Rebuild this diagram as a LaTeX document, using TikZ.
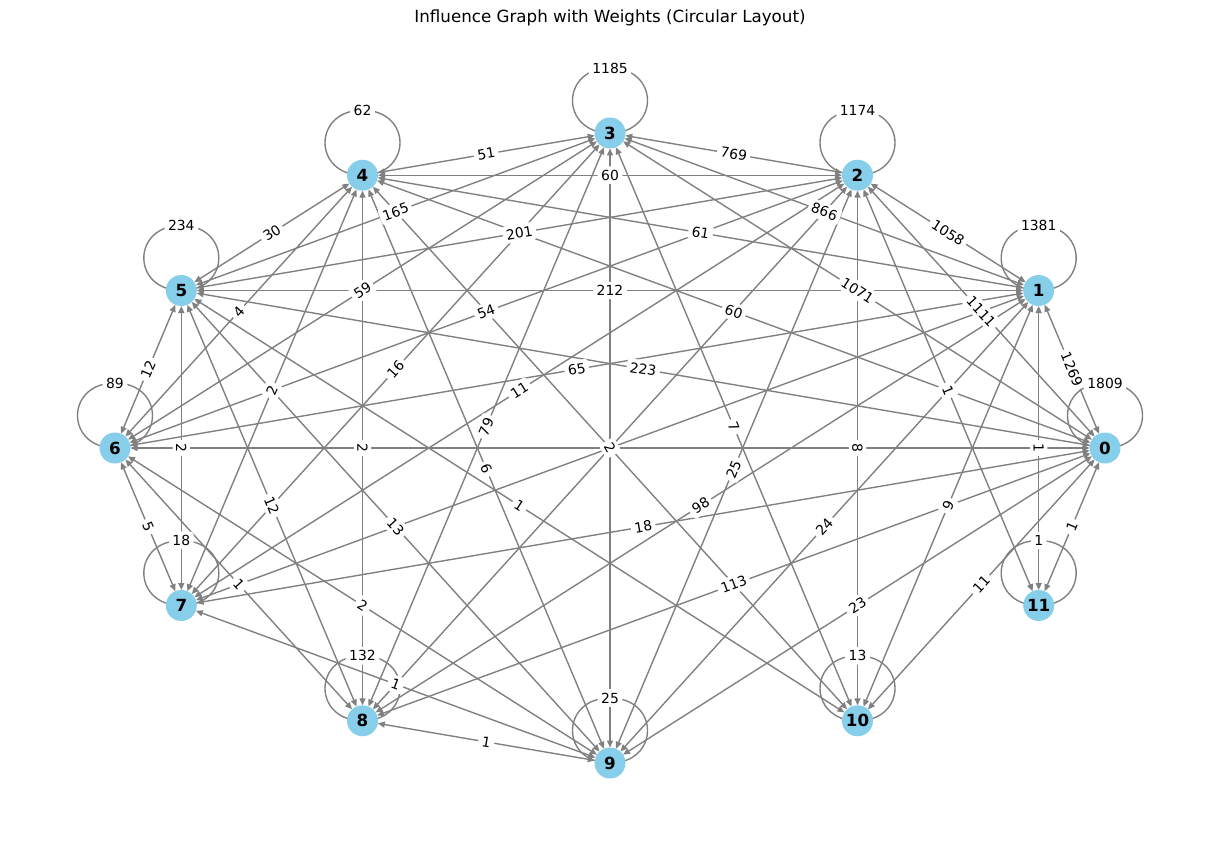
\documentclass[tikz,border=0pt]{standalone}
\usepackage{fontspec}
\setmainfont{DejaVu Sans}
\usetikzlibrary{arrows.meta,calc}
\pgfdeclarelayer{bg}
\pgfsetlayers{bg,main}
\definecolor{nodeblue}{HTML}{87CEEB}
\definecolor{edgegray}{HTML}{808080}
\begin{document}
\begin{tikzpicture}[x=1pt,y=-1pt,
  vtx/.style={circle,fill=nodeblue,minimum size=31pt,inner sep=0pt,outer sep=0pt,font=\fontsize{16.7}{20}\selectfont\bfseries},
  edge/.style={draw=edgegray,line width=1.39pt,{Triangle[length=7pt,width=6pt]}-{Triangle[length=7pt,width=6pt]}},
  loopline/.style={draw=edgegray,line width=1.39pt},
  lbl/.style={fill=white,rounded corners=3pt,inner sep=3.5pt,font=\fontsize{13.9}{16}\selectfont},
  titlest/.style={font=\fontsize{16.7}{20}\selectfont}]
\useasboundingbox (0,0) rectangle (1220,842);
\node[titlest] (title) at (610,18) {Influence Graph with Weights (Circular Layout)};
\foreach \i in {0,...,11}
  \node[vtx] (n\i) at ({610+495*cos(30*\i)},{448-315*sin(30*\i)}) {\i};
\begin{pgfonlayer}{bg}
\foreach \a/\b in {0/1,0/2,0/3,0/4,0/5,0/6,0/7,0/8,0/9,0/10,0/11,
  1/2,1/3,1/4,1/5,1/6,1/7,1/8,1/9,1/10,1/11,
  2/3,2/4,2/5,2/6,2/7,2/8,2/9,2/10,2/11,
  3/4,3/5,3/6,3/7,3/8,3/9,3/10,
  4/5,4/6,4/7,4/8,4/9,4/10,
  5/6,5/7,5/8,5/9,5/10,
  6/7,6/8,6/9,7/9,8/9}
  \draw[edge] (n\a) -- (n\b);
\foreach \i in {0,...,11}
  \draw[loopline] (n\i.center) .. controls +(-50,0) and +(-50,0) .. ($(n\i.center)+(0,-65)$)
     .. controls +(50,0) and +(50,0) .. (n\i.center);
\end{pgfonlayer}
\foreach \a/\b/\w in {0/1/1269,0/2/1111,0/3/1071,0/4/60,0/5/223,0/7/18,0/8/113,0/9/23,0/10/11,0/11/1,
  1/2/1058,1/3/866,1/4/61,1/5/212,1/6/65,1/8/98,1/9/24,1/10/9,1/11/1,
  2/3/769,2/4/60,2/5/201,2/6/54,2/7/11,2/9/25,2/10/8,2/11/1,
  3/4/51,3/5/165,3/6/59,3/7/16,3/8/79,3/10/7,
  4/5/30,4/6/4,4/7/2,4/8/2,4/9/6,
  5/6/12,5/7/2,5/8/12,5/9/13,5/10/1,
  6/7/5,6/8/1,6/9/2,7/9/1,8/9/1}
  \path (n\a) -- (n\b) node[lbl,midway,sloped] {\w};
\node[lbl,rotate=-60] (ctr) at (610,448) {2};
\foreach \i/\w in {0/1809,1/1381,2/1174,3/1185,4/62,5/234,6/89,7/18,8/132,9/25,10/13,11/1}
  \node[lbl] (l\i) at ($(n\i.center)+(0,-65)$) {\w};
\end{tikzpicture}
\end{document}
